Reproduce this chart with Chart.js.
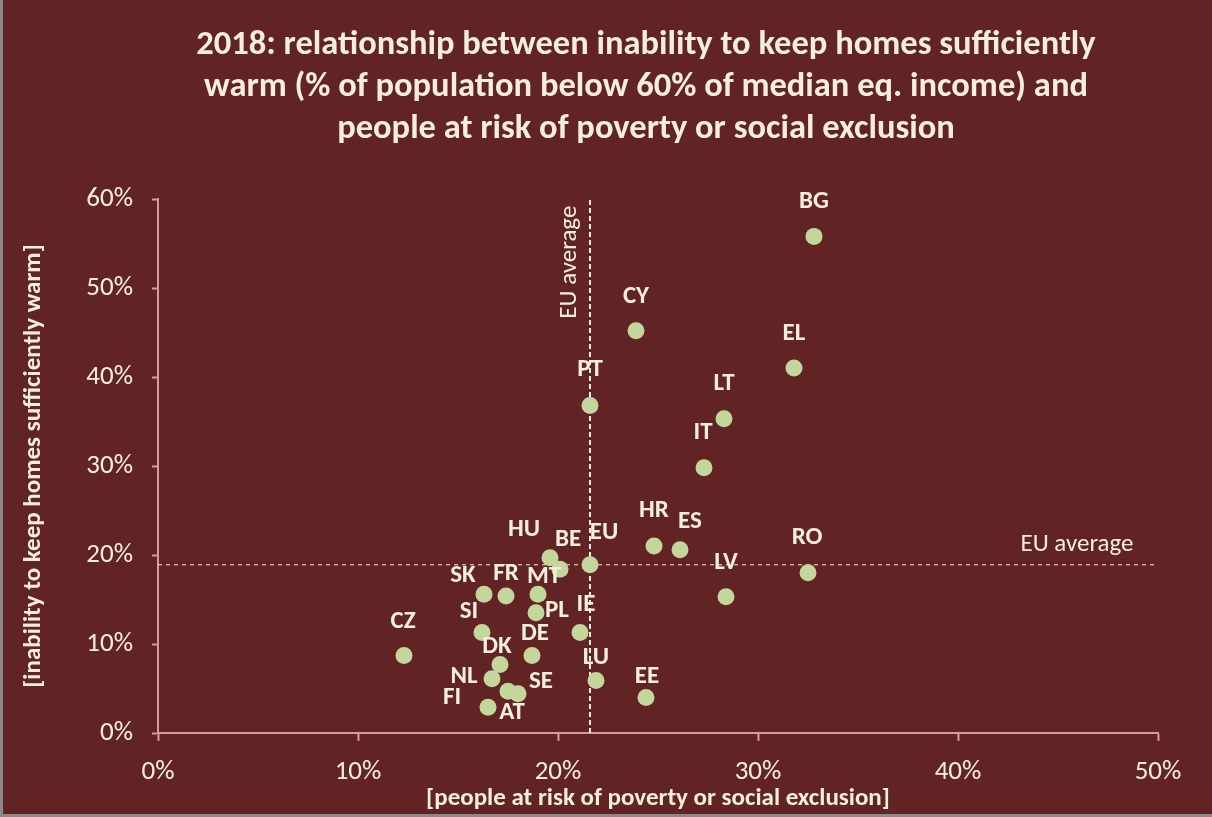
<!DOCTYPE html>
<html>
<head>
<meta charset="utf-8">
<title>Cold homes vs. poverty risk, 2018</title>
<script src="https://cdn.jsdelivr.net/npm/chart.js@4.4.1/dist/chart.umd.min.js"></script>
<style>
  html, body { margin: 0; padding: 0; background: #8a8a8a; }
  #wrap { position: absolute; left: 3px; top: 0; width: 1209px; height: 814px; background: #622325; }
</style>
</head>
<body>
<div id="wrap"><canvas id="chart"></canvas></div>
<script>
// EU-SILC 2018, by country (%)
const countries   = ['BG', 'CY', 'EL', 'PT', 'LT', 'IT', 'HR', 'ES', 'RO', 'LV', 'HU', 'BE', 'EU', 'SK', 'FR', 'MT', 'PL', 'SI', 'IE', 'CZ', 'DE', 'DK', 'NL', 'LU', 'AT', 'SE', 'FI', 'EE'];
const povertyRisk = [32.8, 23.9, 31.8, 21.6, 28.3, 27.3, 24.8, 26.1, 32.5, 28.4, 19.6, 20.1, 21.6, 16.3, 17.4, 19.0, 18.9, 16.2, 21.1, 12.3, 18.7, 17.1, 16.7, 21.9, 17.5, 18.0, 16.5, 24.4];
const coldHomes   = [55.8, 45.2, 41.0, 36.8, 35.3, 29.8, 21.0, 20.6, 18.0, 15.3, 19.7, 18.4, 18.9, 15.6, 15.4, 15.6, 13.5, 11.3, 11.3, 8.7, 8.7, 7.7, 6.1, 5.9, 4.7, 4.4, 2.9, 4.0];

// EU averages for the reference lines
const euAvgPoverty = 21.6;
const euAvgCold = 18.9;

const xRange = [0, 50];
const yRange = [0, 60];

const titleLines = [
  '2018: relationship between inability to keep homes sufficiently',
  'warm (% of population below 60% of median eq. income) and',
  'people at risk of poverty or social exclusion'
];

// where each country code sits relative to its marker (px)
const labelOffset = {
  BG: [0, -35], CY: [0, -34], EL: [0, -34], PT: [0, -36], LT: [0, -35], IT: [-1, -35],
  HR: [0, -35], ES: [10, -28], RO: [-1, -35], LV: [0, -34], HU: [-26, -28], BE: [8, -29],
  EU: [14, -32], SK: [-21, -18], FR: [0, -22], MT: [6, -17], PL: [21, -2], SI: [-13, -21],
  IE: [6, -28], CZ: [-1, -34], DE: [3, -22], DK: [-3, -18], NL: [-28, -2], LU: [0, -23],
  AT: [4, 22], SE: [23, -12], FI: [-36, -9], EE: [1, -21]
};

const FONT = 'Carlito, "Open Sans", Lato, sans-serif';
const TEXT = '#f3efdc';
const AXIS = '#d99a9a';
const DOT = '#c3d69b';

const points = countries.map((c, i) => ({ x: povertyRisk[i], y: coldHomes[i] }));

// title, country codes and the "EU average" notes
const annotate = {
  id: 'annotate',
  afterDraw(chart) {
    const ctx = chart.ctx;
    const area = chart.chartArea;
    const xs = chart.scales.x, ys = chart.scales.y;
    ctx.save();
    ctx.fillStyle = TEXT;
    ctx.textAlign = 'center';

    ctx.textBaseline = 'alphabetic';
    ctx.font = 'bold 34.5px ' + FONT;
    const cx = (area.left + area.right) / 2 - 12;
    titleLines.forEach((t, i) => ctx.fillText(t, cx, 54 + i * 42));

    ctx.textBaseline = 'middle';
    ctx.font = 'bold 25px ' + FONT;
    const meta = chart.getDatasetMeta(2);
    meta.data.forEach((el, i) => {
      const off = labelOffset[countries[i]] || [0, -34];
      ctx.fillText(countries[i], el.x + off[0], el.y + off[1]);
    });

    ctx.font = '25px ' + FONT;
    ctx.fillText('EU average', xs.getPixelForValue(45.95), ys.getPixelForValue(euAvgCold) - 20);
    ctx.translate(xs.getPixelForValue(euAvgPoverty) - 20, ys.getPixelForValue(52.9));
    ctx.rotate(-Math.PI / 2);
    ctx.fillText('EU average', 0, 0);
    ctx.restore();
  }
};

new Chart(document.getElementById('chart'), {
  type: 'scatter',
  data: {
    datasets: [
      {
        type: 'line',
        data: [{ x: euAvgPoverty, y: yRange[0] }, { x: euAvgPoverty, y: yRange[1] }],
        borderColor: TEXT,
        borderWidth: 2,
        borderDash: [5, 3],
        pointRadius: 0,
        order: 3
      },
      {
        type: 'line',
        data: [{ x: xRange[0], y: euAvgCold }, { x: xRange[1], y: euAvgCold }],
        borderColor: TEXT,
        borderWidth: 1,
        borderDash: [4, 4],
        pointRadius: 0,
        order: 2
      },
      {
        data: points,
        backgroundColor: DOT,
        borderWidth: 0,
        pointRadius: 8.5,
        order: 1
      }
    ]
  },
  options: {
    responsive: true,
    maintainAspectRatio: false,
    animation: false,
    events: [],
    layout: { padding: { top: 199, left: 16, right: 54, bottom: 0 } },
    plugins: {
      legend: { display: false },
      tooltip: { enabled: false }
    },
    scales: {
      x: {
        type: 'linear',
        min: xRange[0],
        max: xRange[1],
        afterFit(scale) { scale.height = 81; },
        border: { display: true, color: AXIS, width: 2 },
        grid: { drawOnChartArea: false, drawTicks: true, tickLength: 8, tickColor: AXIS, tickWidth: 2 },
        ticks: {
          stepSize: 10,
          padding: 15,
          color: TEXT,
          font: { family: FONT, size: 27 },
          callback: v => v + '%'
        },
        title: {
          display: true,
          text: '[people at risk of poverty or social exclusion]',
          color: TEXT,
          font: { family: FONT, size: 25, weight: '600' },
          padding: { top: 0, bottom: 0 }
        }
      },
      y: {
        type: 'linear',
        min: yRange[0],
        max: yRange[1],
        afterFit(scale) { scale.width = 139; },
        border: { display: true, color: AXIS, width: 2 },
        grid: { drawOnChartArea: false, drawTicks: true, tickLength: 6, tickColor: AXIS, tickWidth: 2 },
        ticks: {
          stepSize: 10,
          padding: 19,
          color: TEXT,
          font: { family: FONT, size: 27 },
          callback: v => v + '%'
        },
        title: {
          display: true,
          text: '[inability to keep homes sufficiently warm]',
          color: TEXT,
          font: { family: FONT, size: 25, weight: '600' },
          padding: { top: 0, bottom: 0 }
        }
      }
    }
  },
  plugins: [annotate]
});
</script>
</body>
</html>
